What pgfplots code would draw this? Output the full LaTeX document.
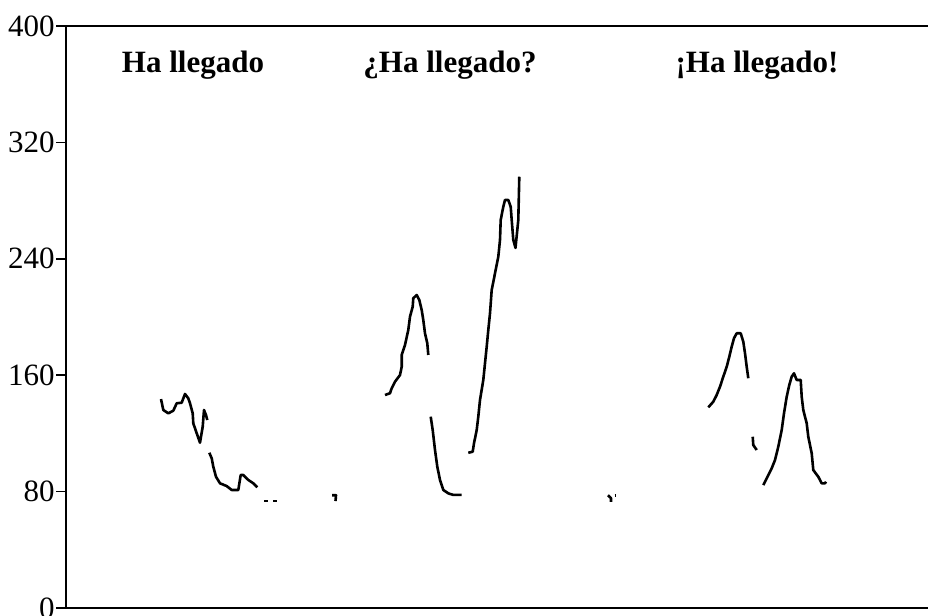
\documentclass[border=0pt]{standalone}
\usepackage{pgfplots}
\pgfplotsset{compat=1.18}
\usepackage{fontspec}
\setmainfont{Liberation Serif}
\tikzset{pc/.style={black, solid, line width=1.3pt, line join=round, mark=none}}
\begin{document}
\begin{tikzpicture}
\path[use as bounding box] (0,0) rectangle (464pt,308pt);
\begin{axis}[
  at={(33pt,4pt)}, anchor=south west,
  scale only axis,
  width=431.5pt, height=291pt,
  xmin=66, xmax=929, ymin=0, ymax=400,
  xtick=\empty,
  ytick={0,80,160,240,320,400},
  ytick pos=left,
  tick align=outside,
  major tick length=5pt,
  axis line style={line width=1pt},
  every tick/.style={line width=0.8pt, black},
  tick label style={font=\fontsize{15.5}{18}\selectfont},
  yticklabel style={inner sep=0.5pt},
  /pgf/number format/assume math mode=true,
  clip=false,
]
% Ha llegado
\addplot[pc] coordinates {(161,143.6)(163.3,136.1)(168.3,133.8)(173.3,135.6)(176.7,140.7)(181.7,141.1)(185,147.1)(188.3,144.1)(190,140.7)(192.7,133.8)(193.3,126.9)(196.7,120.1)(200,113.6)(202.7,124.6)(204,136.1)(206,132.6)(207.3,129.2)};
\addplot[pc] coordinates {(209.3,106.7)(211.7,102.9)(213.3,97.1)(216,90.2)(220,85.7)(226.7,83.8)(231.7,81.1)(238.3,81.1)(240.7,91.4)(243.3,91.4)(248.3,88.0)(253.3,85.7)(257.3,83.0)};
\addplot[pc] coordinates {(264,73.5)(268,73.5)};
\addplot[pc] coordinates {(273,73.5)(277,73.5)};
% ¿Ha llegado?
\addplot[pc] coordinates {(332,77.5)(336,77.5)(335.5,73.5)};
\addplot[pc] coordinates {(385,146.4)(390,147.6)(391.7,151.0)(395,155.5)(400,160.1)(401.7,165.8)(401.7,173.9)(405,180.8)(408.3,191.1)(410,200.2)(412.7,207.1)(413.3,212.9)(416.7,215.1)(419.3,211.7)(421.7,204.8)(423.3,197.9)(425,188.8)(427.3,181.9)(428.3,173.9)};
\addplot[pc] coordinates {(430.7,131.5)(432.7,122.3)(435,108.6)(437.3,97.1)(440,88.0)(443.3,81.1)(448.3,78.8)(453.3,77.7)(461.7,77.7)};
\addplot[pc] coordinates {(468.3,106.7)(472.7,107.4)(474,113.2)(476.7,122.3)(478.3,131.5)(480,143.0)(483.3,156.7)(485,168.2)(486.7,179.6)(488.3,191.1)(490,202.5)(491.7,218.6)(495,230.0)(498.3,241.4)(500,253.0)(500.7,266.7)(503.3,275.8)(505,280.4)(508.3,280.4)(510.7,275.8)(511.7,266.7)(513.3,253.0)(515.5,247.5)(518.3,266.7)(519.3,296.4)};
% ¡Ha llegado!
\addplot[pc] coordinates {(608,77.5)(611,75.5)(611,73)};
\addplot[pc] coordinates {(614.5,77.5)(616,77.5)};
\addplot[pc] coordinates {(708.3,137.9)(713.3,141.8)(716.7,146.4)(720,152.1)(723.3,159.0)(726.7,165.8)(729.3,172.7)(731.7,179.6)(734,185.4)(736.7,188.8)(740.7,188.8)(743.3,183.0)(745,175.1)(746.7,165.8)(748.3,157.9)};
\addplot[pc] coordinates {(752.7,117.7)(753.3,112.0)(756.7,108.6)};
\addplot[pc] coordinates {(763.3,84.5)(766.7,89.1)(771.7,96.0)(775,101.7)(778.3,110.9)(781.7,122.3)(784,133.8)(786.7,145.2)(789.3,153.3)(791.7,159.0)(794,161.3)(796.7,156.7)(800.7,156.7)(801.7,145.2)(803.3,136.1)(806.7,126.9)(808.3,117.7)(811.7,106.3)(813.3,94.8)(818.3,90.2)(821.7,85.7)(825,85.7)(826,86.8)};
% titles
\node[anchor=base, font=\bfseries\fontsize{15.5}{18}\selectfont, inner sep=0pt] at (axis cs:193,367.7) {Ha llegado};
\node[anchor=base, font=\bfseries\fontsize{15.5}{18}\selectfont, inner sep=0pt] at (axis cs:450,367.7) {¿Ha llegado?};
\node[anchor=base, font=\bfseries\fontsize{15.5}{18}\selectfont, inner sep=0pt] at (axis cs:757,367.7) {¡Ha llegado!};
\end{axis}
\end{tikzpicture}
\end{document}
